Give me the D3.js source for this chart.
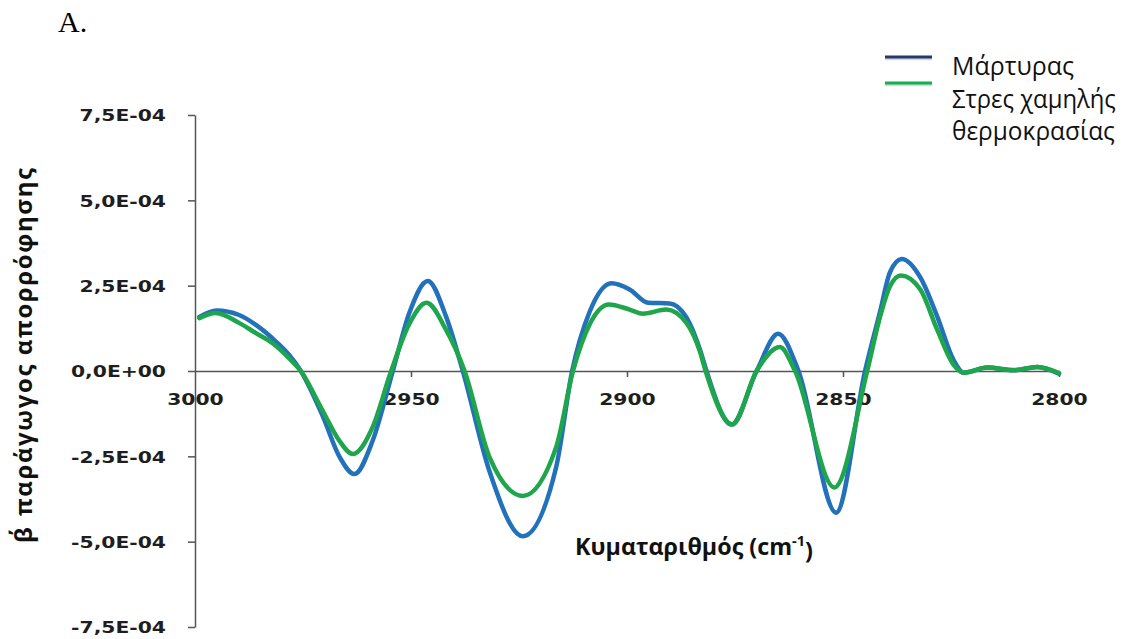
<!DOCTYPE html>
<html>
<head>
<meta charset="utf-8">
<script src="https://cdn.jsdelivr.net/npm/d3@7"></script>
<style>
html, body { margin: 0; padding: 0; background: #ffffff; }
svg { display: block; }
</style>
</head>
<body>
<script>
// ---- Data ----
const wavenumbersControl = [2999, 2995, 2989.8, 2985.9, 2982.1, 2978.2, 2975.5, 2970.5, 2966.6, 2963.1,
  2958.9, 2954.2, 2950.4, 2946.1, 2941.9, 2938.0, 2931.8, 2924.1, 2916.4, 2912.7,
  2908.6, 2903.6, 2899.4, 2895.1, 2890.1, 2886.2, 2883.1, 2881.6, 2875.8, 2870.0,
  2865.0, 2860.3, 2851.6, 2844.9, 2841.4, 2839.1, 2836.4, 2832.1, 2828.2, 2824.4,
  2822.0, 2816.6, 2810.5, 2805.0, 2800];
const valuesControl = [1.58e-4, 1.77e-4, 1.64e-4, 1.35e-4, 0.96e-4, 0.47e-4, 0, -1.30e-4, -2.50e-4, -3.02e-4,
  -2.05e-4, 0, 1.70e-4, 2.64e-4, 1.60e-4, 0, -2.95e-4, -4.84e-4, -2.82e-4, 0,
  1.75e-4, 2.57e-4, 2.39e-4, 2.00e-4, 1.98e-4, 1.56e-4, 0.62e-4, 0, -1.57e-4, 0,
  1.09e-4, 0, -4.15e-4, 0, 1.75e-4, 2.90e-4, 3.28e-4, 2.74e-4, 1.60e-4, 0.32e-4,
  -0.05e-4, 0.10e-4, 0.02e-4, 0.12e-4, -0.08e-4];

const wavenumbersCold = [2999, 2995.2, 2989.8, 2985.9, 2982.1, 2978.2, 2975.5, 2970.5, 2966.6, 2963.5,
  2958.9, 2954.6, 2950.4, 2946.4, 2941.9, 2937.6, 2931.8, 2924.1, 2916.4, 2912.5,
  2908.6, 2904.2, 2899.4, 2896.3, 2890.9, 2886.2, 2883.1, 2881.8, 2875.6, 2870.0,
  2864.6, 2861.1, 2852.0, 2844.4, 2841.4, 2839.1, 2836.6, 2832.1, 2828.2, 2824.4,
  2822.0, 2816.6, 2810.5, 2805.0, 2800];
const valuesCold = [1.55e-4, 1.70e-4, 1.41e-4, 1.11e-4, 0.82e-4, 0.37e-4, 0, -1.15e-4, -2.04e-4, -2.43e-4,
  -1.65e-4, 0, 1.38e-4, 2.00e-4, 1.21e-4, 0, -2.53e-4, -3.66e-4, -2.23e-4, 0,
  1.38e-4, 1.95e-4, 1.80e-4, 1.68e-4, 1.80e-4, 1.40e-4, 0.56e-4, 0, -1.57e-4, 0,
  0.70e-4, 0, -3.41e-4, 0, 1.60e-4, 2.49e-4, 2.80e-4, 2.39e-4, 1.21e-4, 0.18e-4,
  -0.05e-4, 0.10e-4, 0.03e-4, 0.12e-4, -0.06e-4];

const seriesNames = ["Μάρτυρας", "Στρες χαμηλής θερμοκρασίας"];
const legendLines = [["Μάρτυρας"], ["Στρες χαμηλής", "θερμοκρασίας"]];
const xTickValues = [3000, 2950, 2900, 2850, 2800];
const xTickLabels = ["3000", "2950", "2900", "2850", "2800"];
const yTickValues = [-7.5e-4, -5.0e-4, -2.5e-4, 0, 2.5e-4, 5.0e-4, 7.5e-4];
const yTickLabels = ["-7,5E-04", "-5,0E-04", "-2,5E-04", "0,0E+00", "2,5E-04", "5,0E-04", "7,5E-04"];
const panelLabel = "A.";
const xTitle = "Κυματαριθμός (cm";
const xTitleSup = "-1";
const yTitle = "β΄ παράγωγος απορρόφησης";

// ---- Chart ----
const W = 1122, H = 639;
const svg = d3.select("body").append("svg").attr("width", W).attr("height", H);

const x = d3.scaleLinear().domain([3000, 2800]).range([195, 1059]);
const y = d3.scaleLinear().domain([-7.5e-4, 7.5e-4]).range([627, 115]);

const axisColor = "#555555";
const tickFont = "'DejaVu Sans', Verdana, sans-serif";
const textFont = "'Open Sans', 'Noto Sans', sans-serif";

// Y axis
const gy = svg.append("g").attr("transform", `translate(${x(3000)},0)`)
  .call(d3.axisLeft(y).tickValues(yTickValues).tickFormat((d, i) => yTickLabels[i])
    .tickSize(7).tickSizeOuter(0));
gy.select(".domain").attr("stroke", axisColor).attr("stroke-width", 1.5);
gy.selectAll(".tick line").attr("stroke", axisColor).attr("stroke-width", 1.5);
gy.selectAll(".tick text")
  .attr("x", 0).attr("dy", "0.36em")
  .attr("transform", "translate(-29,0) scale(1.27,1)")
  .attr("text-anchor", "end")
  .style("font-family", tickFont).style("font-weight", "bold").style("font-size", "16px")
  .attr("fill", "#1e1e1e");

// X axis at zero
const gx = svg.append("g").attr("transform", `translate(0,${y(0)})`)
  .call(d3.axisBottom(x).tickValues(xTickValues).tickFormat((d, i) => xTickLabels[i])
    .tickSize(6).tickSizeOuter(0));
gx.select(".domain").attr("stroke", axisColor).attr("stroke-width", 1.5);
gx.selectAll(".tick line").attr("stroke", axisColor).attr("stroke-width", 1.5);
gx.selectAll(".tick text")
  .attr("y", 0).attr("dy", 0)
  .attr("transform", "translate(0,33.5) scale(1.27,1)")
  .attr("text-anchor", "middle")
  .style("font-family", tickFont).style("font-weight", "bold").style("font-size", "16px")
  .attr("fill", "#1e1e1e");
gx.selectAll(".tick").filter(d => d === 3000).select("line").remove();

// Lines
const line = d3.line().x(d => x(d[0])).y(d => y(d[1])).curve(d3.curveMonotoneX);
const control = wavenumbersControl.map((w, i) => [w, valuesControl[i]]);
const cold = wavenumbersCold.map((w, i) => [w, valuesCold[i]]);
const colors = ["#2271ba", "#1fa64c"];
const legendColors = ["#1f3b70", "#12b04e"];

svg.append("path").datum(control).attr("d", line)
  .attr("fill", "none").attr("stroke", colors[0]).attr("stroke-width", 4.5)
  .attr("stroke-linejoin", "round").attr("stroke-linecap", "round");
svg.append("path").datum(cold).attr("d", line)
  .attr("fill", "none").attr("stroke", colors[1]).attr("stroke-width", 4.5)
  .attr("stroke-linejoin", "round").attr("stroke-linecap", "round");

// helper: scale a text horizontally to a target width about its anchor
function fitText(sel, tx, ty, targetW) {
  const w = sel.node().getComputedTextLength();
  sel.attr("x", 0).attr("y", 0)
    .attr("transform", `translate(${tx},${ty}) scale(${targetW / w},1)`);
}

// Panel label
svg.append("text").text(panelLabel)
  .attr("x", 58).attr("y", 31.5)
  .style("font-family", "'Liberation Serif', 'Times New Roman', serif")
  .style("font-size", "30px").attr("fill", "#000");

// Legend
const legY = [57, 83];
legendColors.forEach((c, i) => {
  svg.append("line").attr("x1", 885).attr("x2", 932).attr("y1", legY[i] + 2).attr("y2", legY[i] + 2)
    .attr("stroke", "#d9d9d9").attr("stroke-width", 2.5);
  svg.append("line").attr("x1", 885).attr("x2", 932).attr("y1", legY[i]).attr("y2", legY[i])
    .attr("stroke", c).attr("stroke-width", 3);
});
const legTextRows = [legendLines[0][0], legendLines[1][0], legendLines[1][1]];
const legBase = [74.5, 108, 139.5];
const legWidths = [122, 164, 163];
legTextRows.forEach((t, i) => {
  const tx = svg.append("text").text(t)
    .style("font-family", textFont).style("font-size", "25px").attr("fill", "#111");
  fitText(tx, 952, legBase[i], legWidths[i]);
});

// X title with superscript
const xt = svg.append("text").attr("text-anchor", "middle")
  .style("font-family", textFont).style("font-weight", "bold").style("font-size", "24px")
  .attr("fill", "#111");
xt.append("tspan").text(xTitle);
xt.append("tspan").text(xTitleSup).attr("dy", "-0.55em").style("font-size", "15px");
xt.append("tspan").text(")").attr("dy", "0.55em");
{
  const w = xt.node().getBBox().width;
  xt.attr("x", 0).attr("y", 0).attr("transform", `translate(694,554.5) scale(${238 / w},1)`);
}

// Y title
svg.append("text").text(yTitle)
  .attr("text-anchor", "middle")
  .attr("transform", "translate(32,355.5) rotate(-90)")
  .attr("textLength", 375).attr("lengthAdjust", "spacing")
  .style("font-family", textFont).style("font-weight", "bold").style("font-size", "24px")
  .attr("fill", "#111");
</script>
</body>
</html>
